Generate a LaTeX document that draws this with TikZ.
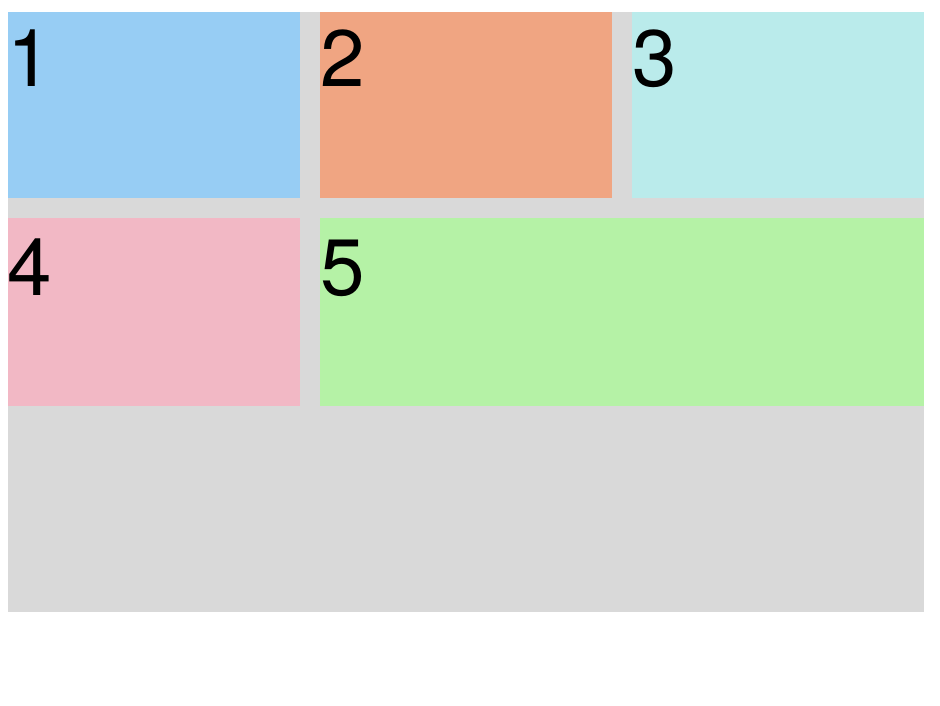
\documentclass[tikz,border=0pt]{standalone}
\usepackage{fontspec}
\setmainfont{TeX Gyre Heros}
\usepackage{tikz}
\usetikzlibrary{positioning}
\definecolor{gridgray}{HTML}{D9D9D9}
\definecolor{itemblue}{HTML}{97CDF4}
\definecolor{itemorange}{HTML}{F0A582}
\definecolor{itemcyan}{HTML}{BAEBEB}
\definecolor{itempink}{HTML}{F2B8C5}
\definecolor{itemgreen}{HTML}{B5F2A6}

\begin{document}
\begin{tikzpicture}[
    x=1pt, y=-1pt,
    container/.style={fill=gridgray, draw=none},
    item/.style={rectangle, draw=none, anchor=north west, inner sep=0pt, outer sep=0pt, minimum height=186pt},
    itemnum/.style={anchor=base west, inner sep=0pt, outer sep=0pt, font=\fontsize{80}{80}\selectfont}
]
    \useasboundingbox (0,0) rectangle (940,706);

    % Container
    \fill[container] (8,12) rectangle (924,612);

    % Row one
    \node[item, fill=itemblue, minimum width=292pt] (one) at (8,12) {};
    \node[item, fill=itemorange, minimum width=292pt, right=20pt of one.north east, anchor=north west] (two) {};
    \node[item, fill=itemcyan, minimum width=292pt, right=20pt of two.north east, anchor=north west] (three) {};

    % Row two
    \node[item, fill=itempink, minimum width=292pt, minimum height=188pt, below=20pt of one.south west, anchor=north west] (four) {};
    \node[item, fill=itemgreen, minimum width=604pt, minimum height=188pt, below=20pt of two.south west, anchor=north west] (five) {};

    % Numbers
    \node[itemnum] (n1) at ([yshift=-75pt]one.north west) {1};
    \node[itemnum] (n2) at ([yshift=-75pt]two.north west) {2};
    \node[itemnum] (n3) at ([yshift=-75pt]three.north west) {3};
    \node[itemnum] (n4) at ([yshift=-77pt]four.north west) {4};
    \node[itemnum] (n5) at ([yshift=-77pt]five.north west) {5};
\end{tikzpicture}
\end{document}
